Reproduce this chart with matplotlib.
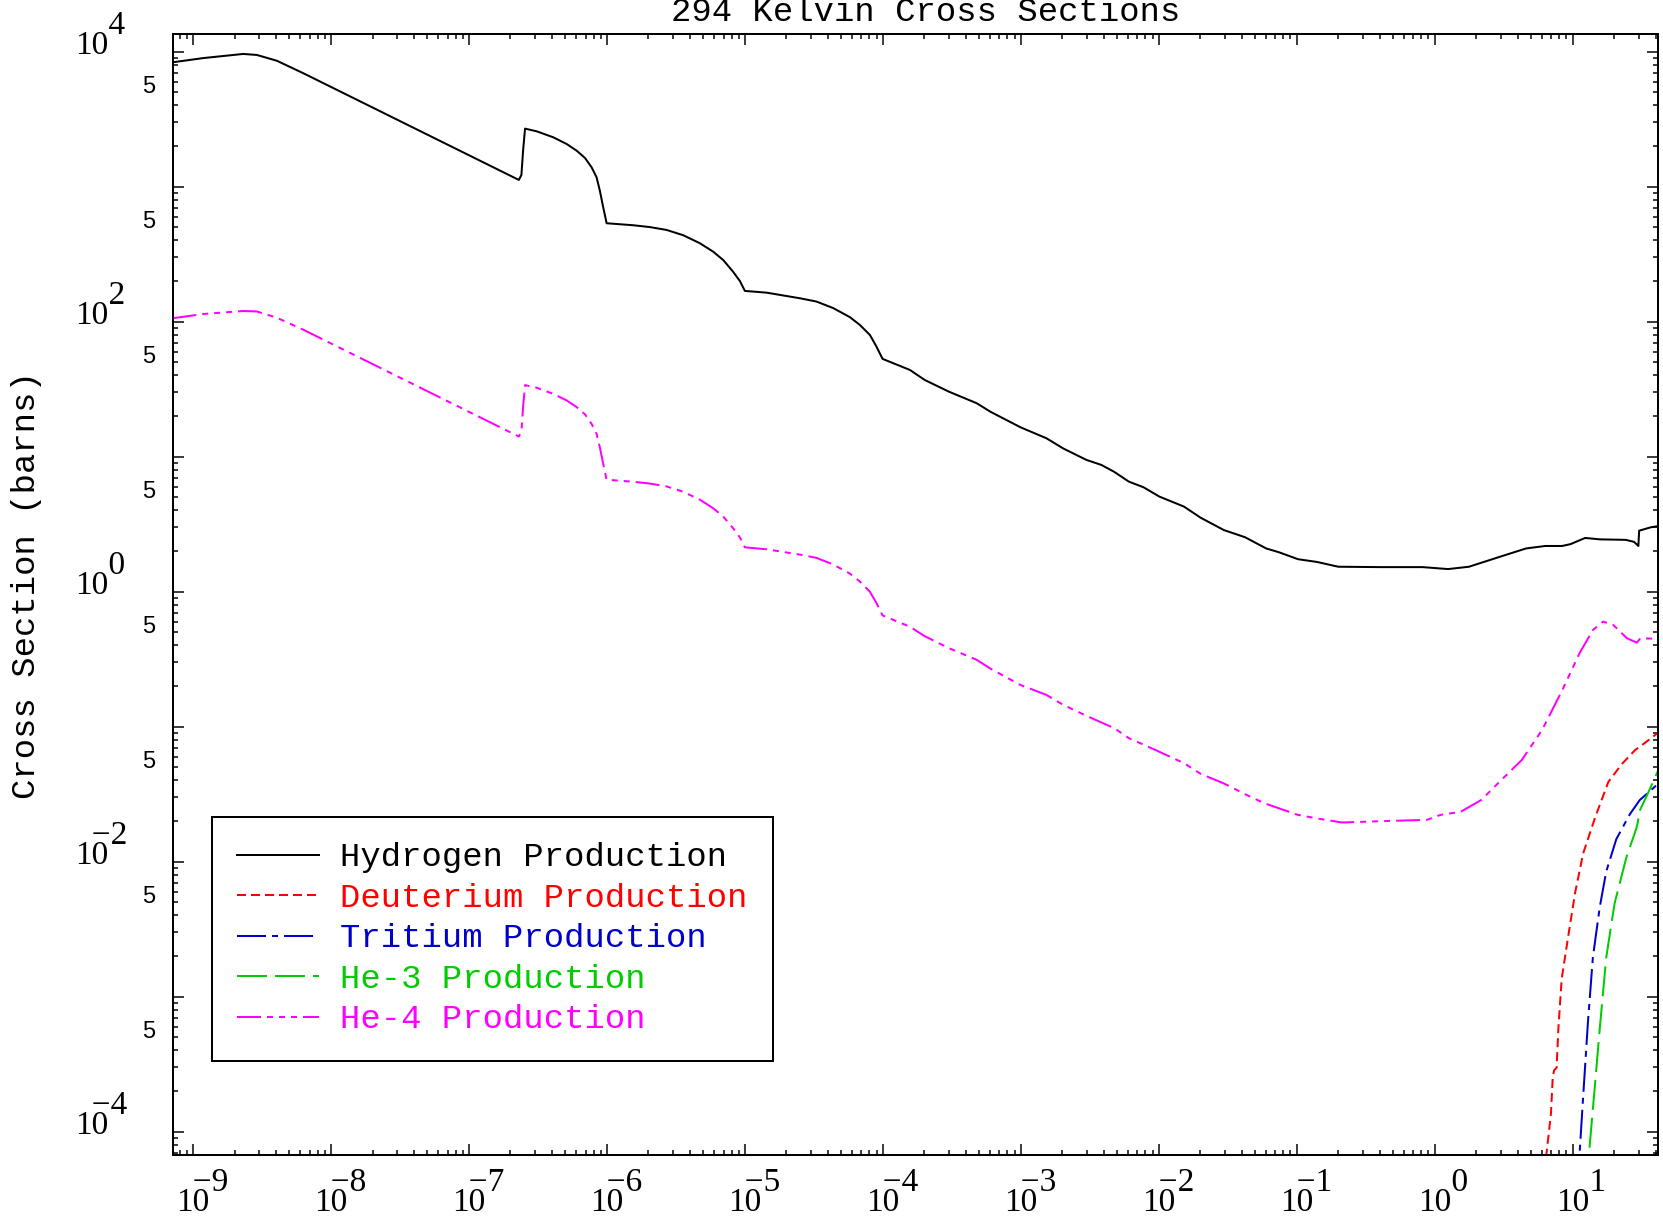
import numpy as np
import matplotlib
matplotlib.use('Agg')
import matplotlib.pyplot as plt
from matplotlib import transforms
from matplotlib.ticker import LogLocator, NullFormatter
from matplotlib.font_manager import FontProperties

plt.rcParams['lines.scale_dashes'] = False

# ---------------- data (energy in MeV, cross section in barns) ----------------
h_energy = [7.1e-10, 1.19e-9, 2.31e-9, 2.90e-9, 4.05e-9, 6.31e-9,
            2.30e-7, 2.40e-7, 2.47e-7, 2.55e-7, 3.10e-7, 4.08e-7, 5.11e-7, 6.03e-7,
            6.93e-7, 7.74e-7, 8.41e-7, 8.89e-7, 9.40e-7, 9.95e-7,
            1.55e-6, 2.05e-6, 2.71e-6, 3.57e-6, 4.72e-6, 5.89e-6, 6.97e-6, 8.22e-6, 9.20e-6,
            1.00e-5, 1.44e-5, 2.51e-5, 3.30e-5, 4.37e-5, 5.77e-5, 6.81e-5, 8.05e-5, 8.99e-5, 9.95e-5,
            1.57e-4, 2.01e-4, 3.01e-4, 4.78e-4, 6.03e-4, 9.95e-4,
            1.53e-3, 2.03e-3, 2.99e-3, 3.83e-3, 4.73e-3, 6.07e-3, 7.76e-3,
            1.01e-2, 1.52e-2, 2.01e-2, 2.96e-2, 4.22e-2, 6.00e-2, 7.41e-2,
            0.102, 0.140, 0.200, 0.403, 0.817,
            1.25, 1.77, 2.90, 4.59, 6.32, 8.37, 9.64,
            12.3, 15.8, 24.2, 27.8, 29.9, 30.3, 36.9, 42.5]
h_xs = [8340, 8970, 9620, 9460, 8570, 6920,
        1122, 1222, 1866, 2692, 2570, 2323, 2070, 1849,
        1633, 1393, 1175, 933, 703, 536,
        518, 502, 478, 437, 381, 330, 286, 234, 200,
        169, 164, 149, 141, 126, 108, 94.6, 79.8, 65.3, 53.0,
        43.9, 37.0, 30.3, 24.9, 21.5, 16.5,
        13.7, 11.5, 9.46, 8.69, 7.74, 6.53, 5.93,
        5.06, 4.27, 3.53, 2.86, 2.53, 2.09, 1.96,
        1.74, 1.66, 1.53, 1.52, 1.52,
        1.47, 1.53, 1.80, 2.09, 2.18, 2.18, 2.25,
        2.50, 2.44, 2.42, 2.34, 2.18, 2.83, 3.00, 3.07]

he4_energy = [7.1e-10, 1.19e-9, 2.31e-9, 2.90e-9, 4.05e-9, 6.31e-9,
              2.30e-7, 2.40e-7, 2.47e-7, 2.55e-7, 3.10e-7, 4.08e-7, 5.11e-7, 6.03e-7,
              6.93e-7, 7.74e-7, 8.41e-7, 8.89e-7, 9.40e-7, 9.95e-7,
              1.55e-6, 2.05e-6, 2.71e-6, 3.57e-6, 4.72e-6, 5.89e-6, 6.97e-6, 8.22e-6, 9.20e-6,
              1.00e-5, 1.44e-5, 2.51e-5, 3.30e-5, 4.37e-5, 5.77e-5, 6.81e-5, 8.05e-5, 8.99e-5, 9.95e-5,
              1.57e-4, 2.01e-4, 3.02e-4, 4.78e-4, 6.03e-4, 9.89e-4,
              1.53e-3, 2.03e-3, 3.06e-3, 4.73e-3, 6.07e-3, 9.48e-3, 1.52e-2,
              2.01e-2, 2.94e-2, 4.22e-2, 5.81e-2, 0.102, 0.140, 0.213,
              0.445, 0.877, 1.10, 1.54, 2.17, 3.04, 4.27,
              6.00, 8.41, 11.2, 14.0, 16.6, 19.7, 24.7,
              29.2, 30.9, 42.5]
he4_xs = [106, 114, 120, 119, 107, 87.1,
          14.1, 15.4, 23.5, 33.9, 32.4, 29.2, 26.1, 23.3,
          20.6, 17.5, 14.8, 11.7, 8.85, 6.75,
          6.52, 6.32, 6.02, 5.50, 4.80, 4.15, 3.60, 2.95, 2.52,
          2.13, 2.06, 1.88, 1.78, 1.59, 1.36, 1.19, 1.00, 0.822, 0.667,
          0.550, 0.468, 0.381, 0.313, 0.269, 0.204,
          0.172, 0.145, 0.119, 0.0977, 0.0822, 0.0671, 0.0537,
          0.0447, 0.0381, 0.0316, 0.0271, 0.0222, 0.0209, 0.0195,
          0.0200, 0.0204, 0.0222, 0.0234, 0.0286, 0.0403, 0.0566,
          0.0946, 0.187, 0.350, 0.520, 0.600, 0.566, 0.452,
          0.419, 0.452, 0.447]

d_energy = [6.31, 6.44, 6.95, 7.16, 7.33, 7.64, 7.87, 8.32, 9.29, 10.4, 11.9,
            14.5, 18.1, 22.6, 28.3, 33.4, 40.6, 42.5]
d_xs = [3.98e-5, 6.76e-5, 1.35e-4, 2.51e-4, 2.85e-4, 2.97e-4, 5.81e-4, 1.36e-3,
        2.83e-3, 5.87e-3, 1.15e-2, 2.11e-2, 3.89e-2, 5.26e-2, 6.71e-2, 7.59e-2,
        8.85e-2, 9.12e-2]

t_energy = [11.1, 11.2, 11.9, 12.9, 14.0, 15.7, 17.5, 20.7, 25.9, 30.6, 35.2, 41.5, 42.5]
t_xs = [3.98e-5, 6.76e-5, 1.82e-4, 6.56e-4, 1.96e-3, 4.61e-3, 8.47e-3, 1.47e-2,
        2.24e-2, 2.86e-2, 3.24e-2, 3.77e-2, 3.85e-2]

he3_energy = [12.9, 13.1, 14.4, 15.7, 17.5, 20.1, 24.5, 28.9, 29.7, 30.6, 35.2, 41.5, 42.5]
he3_xs = [3.98e-5, 6.76e-5, 2.06e-4, 5.81e-4, 1.96e-3, 4.90e-3, 1.08e-2, 1.76e-2,
          1.99e-2, 2.39e-2, 3.24e-2, 4.71e-2, 4.90e-2]

series_labels = ['Hydrogen Production', 'Deuterium Production', 'Tritium Production',
                 'He-3 Production', 'He-4 Production']
title_text = '294 Kelvin Cross Sections'
ylabel_text = 'Cross Section (barns)'
x_label_powers = list(range(-9, 2))
y_label_powers = [-4, -2, 0, 2, 4]
y_five_powers = list(range(-4, 4))

# ---------------- figure ----------------
W, H, DPI = 1663, 1220, 100
PT = 72.0 / DPI  # points per pixel
fig = plt.figure(figsize=(W / DPI, H / DPI), dpi=DPI)
ax = fig.add_axes([173 / W, 1 - 1155 / H, 1485 / W, 1121 / H])
ax.set_xscale('log')
ax.set_yscale('log')
ax.set_xlim(10 ** -9.145, 10 ** 1.618)
ax.set_ylim(10 ** -4.173, 10 ** 4.131)

mono = 'Liberation Mono'
serif = 'Liberation Serif'
sans = 'Liberation Sans'

colors = ['#000000', '#ff0000', '#0000cc', '#00cc00', '#ff00ff']
dash = {
    'solid': '-',
    'dashed': (0, (9 * PT, 5 * PT)),
    'dashdot': (0, (29 * PT, 6 * PT, 6 * PT, 6 * PT)),
    'long': (0, (30 * PT, 8 * PT)),
    'dash3dot': (0, (24 * PT, 6 * PT, 6 * PT, 6 * PT, 6 * PT, 6 * PT, 6 * PT, 6 * PT)),
}
series = [(h_energy, h_xs, 'solid'), (d_energy, d_xs, 'dashed'), (t_energy, t_xs, 'dashdot'),
          (he3_energy, he3_xs, 'long'), (he4_energy, he4_xs, 'dash3dot')]
lw = 2.0 * PT
handles = []
for (e, s, st), c, lab in zip(series, colors, series_labels):
    ln, = ax.plot(e, s, color=c, lw=lw, linestyle=dash[st], label=lab)
    handles.append(ln)

# ---------------- axes styling ----------------
for sp in ax.spines.values():
    sp.set_linewidth(2.0 * PT)
for axis in (ax.xaxis, ax.yaxis):
    axis.set_major_locator(LogLocator(base=10, numticks=40))
    axis.set_minor_locator(LogLocator(base=10, subs=np.arange(2, 10), numticks=40))
    axis.set_major_formatter(NullFormatter())
    axis.set_minor_formatter(NullFormatter())
ax.tick_params(which='both', direction='in', top=True, right=True, width=1.5 * PT, color='black')
ax.tick_params(which='major', length=11 * PT)
ax.tick_params(which='minor', length=5 * PT)

# ---------------- tick labels: "10" with a full-size exponent above-right ----------------
lab_fs = 24
renderer = fig.canvas.get_renderer()
fp = FontProperties(family=serif, size=lab_fs)
w10, _, _ = renderer.get_text_width_height_descent('10', fp, ismath=False)
_, lp_h, lp_d = renderer.get_text_width_height_descent('lp', fp, ismath=False)
asc = lp_h - lp_d
gap = 20.0                       # px between exponent baseline and "10" baseline
lsp = (gap - lp_d) / asc


def label_string(p):
    if p < 0:
        return '  \u2212' + str(-p) + '\n10'
    return '    ' + str(p) + '\n10'


xtr = transforms.blended_transform_factory(ax.transData, fig.dpi_scale_trans)
for p in x_label_powers:
    v = 10.0 ** p
    tr = transforms.offset_copy(xtr, fig=fig, x=-w10 / 2 * PT, y=0, units='points')
    fig.text(v, (H - 1191 + asc) / DPI, label_string(p), transform=tr, ha='left', va='top',
             multialignment='left', linespacing=lsp, fontsize=lab_fs, family=serif)

ytr = transforms.blended_transform_factory(fig.dpi_scale_trans, ax.transData)
for p in y_label_powers:
    v = 10.0 ** p
    tr = transforms.offset_copy(ytr, fig=fig, x=0, y=(18 + asc) * PT, units='points')
    fig.text(75 / DPI, v, label_string(p), transform=tr, ha='left', va='top',
             multialignment='left', linespacing=lsp, fontsize=lab_fs, family=serif)

for p in y_five_powers:
    v = 5.0 * 10.0 ** p
    fig.text(149 / DPI, v, '5', transform=transforms.offset_copy(ytr, fig=fig, x=0, y=5 * PT, units='points'),
             ha='center', va='center', fontsize=17, family=sans)

# ---------------- title, axis label ----------------
txt_fs = 24.4
fig.text(926 / W, 1 - 21 / H, title_text, ha='center', va='baseline', fontsize=txt_fs, family=mono)
fig.text(26.5 / W, 1 - 585 / H, ylabel_text, ha='center', va='center', rotation=90,
         fontsize=txt_fs, family=mono)

# ---------------- legend ----------------
leg = ax.legend(handles=handles, loc='upper left', bbox_to_anchor=(212 / W, 1 - 817 / H),
                bbox_transform=fig.transFigure, prop={'family': mono, 'size': txt_fs},
                frameon=True, fancybox=False, edgecolor='black', framealpha=1,
                borderpad=0.75, handlelength=2.42, handletextpad=0.62, labelspacing=0.28,
                borderaxespad=0, labelcolor='linecolor')
leg.get_frame().set_linewidth(2.0 * PT)

fig.savefig('out.png', dpi=DPI)
